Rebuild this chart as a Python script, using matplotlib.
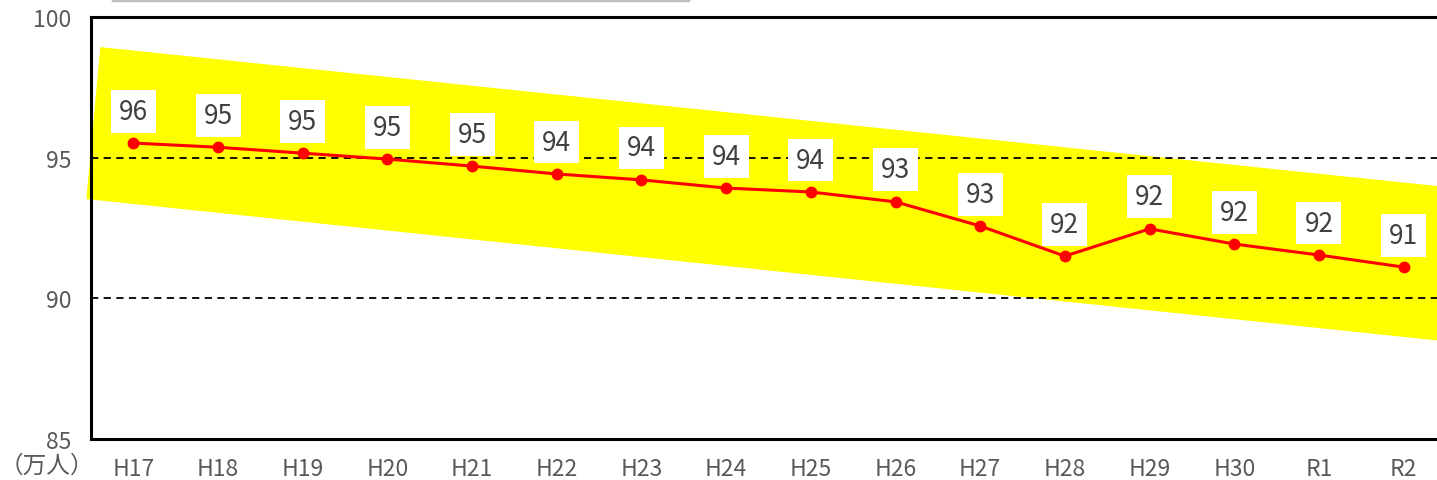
import matplotlib
matplotlib.use("Agg")
import matplotlib.pyplot as plt
from matplotlib.lines import Line2D

plt.rcParams['font.family'] = ['Noto Sans CJK JP', 'DejaVu Sans']

categories = ["H17", "H18", "H19", "H20", "H21", "H22", "H23", "H24",
              "H25", "H26", "H27", "H28", "H29", "H30", "R1", "R2"]
values = [95.52, 95.37, 95.16, 94.95, 94.70, 94.42, 94.21, 93.92,
          93.78, 93.43, 92.57, 91.50, 92.47, 91.93, 91.54, 91.11]
value_labels = ["96", "95", "95", "95", "95", "94", "94", "94",
                "94", "93", "93", "92", "92", "92", "92", "91"]
y_ticks = [85, 90, 95, 100]
ref_lines = [90, 95]
# trend band corners (x index, value)
band_top_x = [-0.39, 15.5]
band_top_y = [98.93, 93.96]
band_bot_x = [-0.555, 15.5]
band_bot_y = [93.53, 88.47]
unit_label = "（万人）"

W, H = 1437, 481
fig = plt.figure(figsize=(W / 100, H / 100), dpi=100)
ax = fig.add_axes([91 / W, 1 - 440 / H, 1355 / W, 422 / H])

xs = list(range(len(categories)))
ax.set_xlim(-0.5, 15.5)
ax.set_ylim(85, 100)

# yellow band
poly_x = band_top_x + band_bot_x[::-1]
poly_y = band_top_y + band_bot_y[::-1]
ax.fill(poly_x, poly_y, color="#FFFF00", lw=0, zorder=1, clip_on=False)

for r in ref_lines:
    ax.axhline(r, color="black", lw=1.3, ls=(0, (4, 3)), zorder=2)

ax.plot(xs, values, color="#FF0000", lw=2.2, marker="o", ms=7.5, zorder=3)

for x, v, lab in zip(xs, values, value_labels):
    ax.annotate(lab, (x, v), xytext=(0, 23), textcoords="offset points",
                ha="center", va="center", fontsize=19, color="#404040",
                bbox=dict(boxstyle="square,pad=0.3", fc="white", ec="none"),
                zorder=4)

ax.set_xticks(xs)
ax.set_xticklabels(categories)
ax.set_yticks(y_ticks)
ax.tick_params(axis="both", length=0, labelsize=16.5, labelcolor="#595959")
ax.tick_params(axis="x", pad=13)
ax.tick_params(axis="y", pad=14)

for s in ["left", "bottom", "top", "right"]:
    ax.spines[s].set_linewidth(2.2)
    ax.spines[s].set_color("black")
    ax.spines[s].set_zorder(5)

fig.text(0 / W, 1 - 466 / H, unit_label, ha="left", va="center",
         fontsize=17, color="#595959")

fig.add_artist(Line2D([113 / W, 688 / W], [1 - 1 / H, 1 - 1 / H],
                      color="#BFBFBF", lw=2.5))

fig.savefig("out.png", dpi=100)
